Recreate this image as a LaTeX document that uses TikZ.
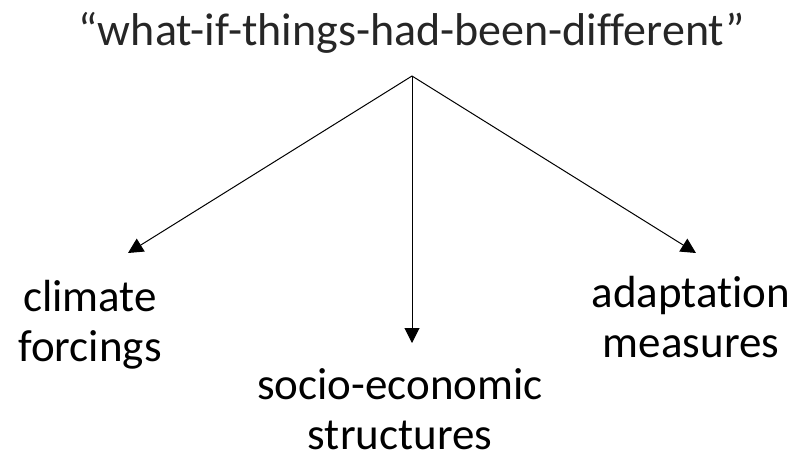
\documentclass[tikz,border=0pt]{standalone}
\usepackage{fontspec}
\setmainfont{Carlito}[Ligatures=NoCommon]
\usetikzlibrary{positioning, arrows.meta}
\definecolor{titlegray}{HTML}{262626}
\tikzstyle{lbl} = [align=center, inner sep=0pt, anchor=base, font=\fontsize{45}{50}\selectfont]

\begin{document}
\begin{tikzpicture}[
    x=1pt, y=-1pt,
    every path/.style={line width=1pt},
    >={Triangle[length=15pt,width=15pt]}
]
    \useasboundingbox (0,0) rectangle (801,459);
    \node[inner sep=0pt, anchor=base, text=titlegray, font=\fontsize{46}{50}\selectfont] (title) at (412,45) {“what-if-things-had-been-different”};
    \coordinate (apex) at (412,76);
    % arrow ends
    \coordinate (climateEnd) at (128,253);
    \coordinate (socioEnd) at (412,343);
    \coordinate (adaptEnd) at (696,253);
    % base = baseline of the last line
    \node[lbl] (climate) at (90,361) {climate\\forcings};
    \node[lbl] (socio) at (400,449) {socio-economic\\structures};
    \node[lbl] (adapt) at (691,357) {adaptation\\measures};
    \draw[->] (apex) -- (climateEnd);
    \draw[->] (apex) -- (socioEnd);
    \draw[->] (apex) -- (adaptEnd);
\end{tikzpicture}
\end{document}
